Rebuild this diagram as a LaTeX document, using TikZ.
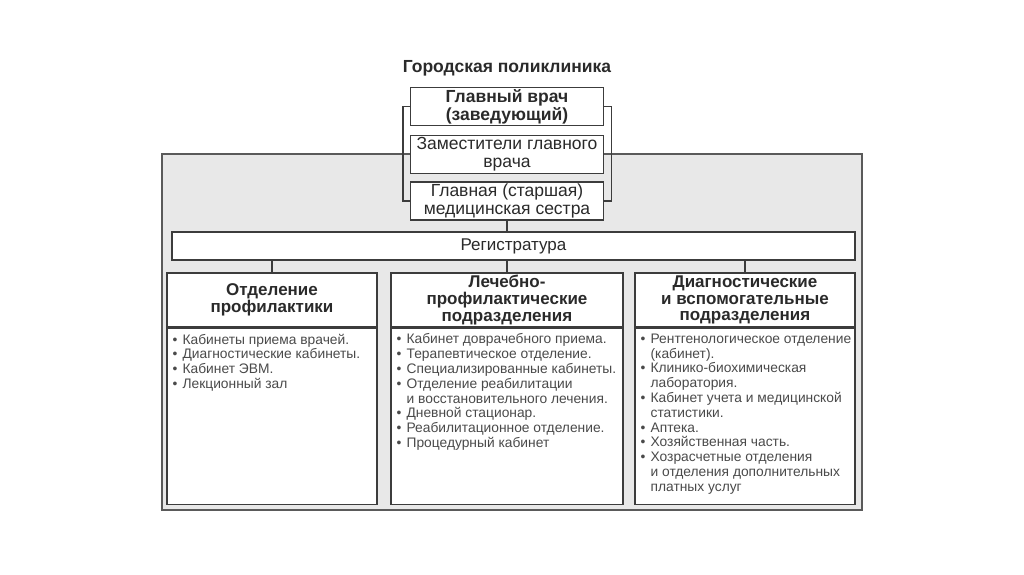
\documentclass[tikz,border=0pt]{standalone}
\usepackage{fontspec}
\setmainfont{Liberation Sans}
\usetikzlibrary{positioning}
\definecolor{lineclr}{HTML}{3C3C3C}
\definecolor{frameclr}{HTML}{5A5A5A}
\definecolor{fillclr}{HTML}{E8E8E8}
\definecolor{txtclr}{HTML}{2A2A2A}
\newcommand{\blt}{\makebox[10pt][l]{\textbullet}}
\newcommand{\ind}{\hspace*{10pt}}

\begin{document}
\begin{tikzpicture}[
        x=1pt, y=-1pt,
        box/.style={draw=lineclr, fill=white, line width=1.2pt, align=center, inner sep=0pt, text=txtclr},
        topbox/.style={box, minimum width=193pt, minimum height=38pt, font=\fontsize{17.5}{18}\selectfont},
        headbox/.style={box, minimum height=54pt, font=\bfseries\fontsize{17}{16.8}\selectfont},
        bodybox/.style={box, minimum height=176pt},
        listtxt/.style={align=left, inner sep=0pt, text=txtclr!85, font=\fontsize{13.8}{14.8}\selectfont},
        link/.style={draw=lineclr, line width=1.2pt},
    ]
        \useasboundingbox (0,0) rectangle (1024,574);
        % outer frame
        \draw[fill=fillclr, draw=frameclr, line width=1.6pt] (162,154) rectangle (862,510);
        \node[font=\bfseries\fontsize{17.5}{17.5}\selectfont, text=txtclr] (title) at (507,68) {Городская поликлиника};
        \node[topbox, font=\bfseries\fontsize{17.5}{18}\selectfont] (chief) at (507,106.5) {Главный врач\\(заведующий)};
        \node[topbox] (deputy) at (507,154.5) {Заместители главного\\врача};
        \node[topbox] (nurse) at (507,201) {Главная (старшая)\\медицинская сестра};
        \node[box, minimum width=683pt, minimum height=28pt, font=\fontsize{17}{17}\selectfont] (reg) at (513.5,246) {Регистратура};
        % departments
        \node[headbox, minimum width=210pt] (prof) at (272,300) {Отделение\\профилактики};
        \node[headbox, minimum width=232pt] (treat) at (507,300) {Лечебно-\\профилактические\\подразделения};
        \node[headbox, minimum width=220pt] (diag) at (745,300) {Диагностические\\и вспомогательные\\подразделения};
        \node[bodybox, minimum width=210pt, below=0pt of prof] (profbody) {};
        \node[bodybox, minimum width=232pt, below=0pt of treat] (treatbody) {};
        \node[bodybox, minimum width=220pt, below=0pt of diag] (diagbody) {};
        \node[listtxt, anchor=north west] (proflist) at ([xshift=6pt, yshift=-6pt]profbody.north west) {%
            \blt Кабинеты приема врачей.\\
            \blt Диагностические кабинеты.\\
            \blt Кабинет ЭВМ.\\
            \blt Лекционный зал};
        \node[listtxt, anchor=north west] (treatlist) at ([xshift=6pt, yshift=-6pt]treatbody.north west) {%
            \blt Кабинет доврачебного приема.\\
            \blt Терапевтическое отделение.\\
            \blt Специализированные кабинеты.\\
            \blt Отделение реабилитации\\
            \ind и восстановительного лечения.\\
            \blt Дневной стационар.\\
            \blt Реабилитационное отделение.\\
            \blt Процедурный кабинет};
        \node[listtxt, anchor=north west] (diaglist) at ([xshift=6pt, yshift=-6pt]diagbody.north west) {%
            \blt Рентгенологическое отделение\\
            \ind (кабинет).\\
            \blt Клинико-биохимическая\\
            \ind лаборатория.\\
            \blt Кабинет учета и медицинской\\
            \ind статистики.\\
            \blt Аптека.\\
            \blt Хозяйственная часть.\\
            \blt Хозрасчетные отделения\\
            \ind и отделения дополнительных\\
            \ind платных услуг};
        % connectors
        \draw[link] (chief.west) -- ++(-7,0) |- (nurse.west);
        \draw[link] (chief.east) -- ++(7,0) |- (nurse.east);
        \draw[link] (nurse.south) -- (nurse.south |- reg.north);
        \draw[link] (prof.north) -- (prof.north |- reg.south);
        \draw[link] (treat.north) -- (treat.north |- reg.south);
        \draw[link] (diag.north) -- (diag.north |- reg.south);
    \end{tikzpicture}
\end{document}
